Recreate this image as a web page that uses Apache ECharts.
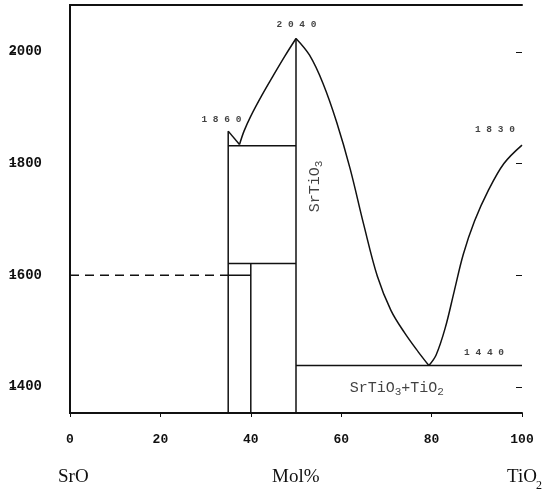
<!DOCTYPE html>
<html>
<head>
<meta charset="utf-8">
<script src="https://cdn.jsdelivr.net/npm/echarts@6/dist/echarts.min.js"></script>
<style>
  html, body { margin: 0; background: #fff; }
  #chart { width: 542px; height: 492px; }
</style>
</head>
<body>
<div id="chart"></div>
<script>
// SrO - TiO2 phase diagram
const xTicks = [0, 20, 40, 60, 80, 100];
const yTicks = [1400, 1600, 1800, 2000];
const yMin = 1353;
const yMax = 2084;

const spike = [[35, 1858], [37.5, 1834]];
const liquidusLeft = [[37.5, 1834], [38.5, 1858], [40, 1885], [42.5, 1923], [45, 1958], [47.5, 1992], [50, 2024]];
const liquidusMid = [[50, 2024], [53, 1994], [56, 1943], [59, 1874], [62, 1790], [65, 1690],
  [68, 1598], [71, 1537], [74, 1497], [77, 1463], [79.4, 1438]];
const liquidusRight = [[79.4, 1438], [81, 1457], [83, 1505], [85, 1571], [87, 1637],
  [89.5, 1697], [92.5, 1751], [96, 1800], [100, 1833]];

const tieLines = [
  [[35, yMin], [35, 1858]],
  [[35, 1832], [50, 1832]],
  [[35, 1621], [50, 1621]],
  [[40, yMin], [40, 1621]],
  [[35, 1600], [40, 1600]],
  [[50, yMin], [50, 2024]],
  [[50, 1438], [100, 1438]],
];
const dashedLine = [[0, 1600], [35, 1600]];

const pointLabels = [[50.1, 2048, '2 0 4 0'], [33.5, 1879, '1 8 6 0'], [94, 1860, '1 8 3 0'], [91.6, 1462, '1 4 4 0']];
const phaseVertical = [[54.3, 1759, '{a|SrTiO}{s|3}']];
const phaseHorizontal = [[72.3, 1397, '{a|SrTiO}{s|3}{a|+TiO}{s|2}']];

const mono = 'Liberation Mono';
const ink = '#111';
const gridBox = { left: 70, right: 20, top: 5, bottom: 79 };

const lineSeries = (data, extra) => Object.assign({
  type: 'line',
  data,
  symbol: 'none',
  silent: true,
  lineStyle: { color: ink, width: 1.5 },
  animation: false,
}, extra || {});

const labelSeries = (data, label) => ({
  type: 'scatter',
  data,
  symbolSize: 0,
  silent: true,
  animation: false,
  label: Object.assign({
    show: true,
    position: 'inside',
    color: ink,
    formatter: (p) => p.data[2],
  }, label),
});

const richText = {
  a: { fontFamily: mono, fontSize: 15, color: ink },
  s: { fontFamily: mono, fontSize: 11, color: ink, padding: [8, 0, 0, 0] },
};

const frameY = (position, extra) => Object.assign({
  type: 'value', min: yMin, max: yMax, position, gridIndex: 0,
  axisLine: { show: true, lineStyle: { color: ink, width: 2 } },
  axisTick: { show: false }, axisLabel: { show: false }, splitLine: { show: false },
}, extra || {});

// tick-only axes live on thin side grids whose outer edge touches the frame,
// so their outward ticks point into the plot
const tickY = (position, gridIndex) => ({
  type: 'value', min: yMin, max: yMax, position, gridIndex,
  axisLine: { show: false },
  axisTick: { show: true, length: 6, lineStyle: { color: ink }, customValues: yTicks },
  axisLabel: { show: false }, splitLine: { show: false },
});

const chart = echarts.init(document.getElementById('chart'), null, { renderer: 'canvas' });
chart.setOption({
  animation: false,
  backgroundColor: '#fff',
  grid: [
    Object.assign({}, gridBox),
    { left: 10, right: 542 - gridBox.left, top: gridBox.top, bottom: gridBox.bottom },
    { left: 542 - gridBox.right, right: 5, top: gridBox.top, bottom: gridBox.bottom },
  ],
  xAxis: [{
    type: 'value', min: 0, max: 100, interval: 20, gridIndex: 0,
    axisLine: { lineStyle: { color: ink, width: 2 } },
    axisTick: { show: true, inside: false, length: 4, lineStyle: { color: ink } },
    axisLabel: { margin: 20, fontFamily: mono, fontSize: 13, fontWeight: 'bold', color: ink,
      customValues: xTicks, formatter: (v) => String(v) },
    splitLine: { show: false },
  }, {
    type: 'value', min: 0, max: 100, position: 'top', gridIndex: 0,
    axisLine: { show: true, lineStyle: { color: ink, width: 2 } },
    axisTick: { show: false }, axisLabel: { show: false }, splitLine: { show: false },
  },
  { type: 'value', min: 0, max: 1, gridIndex: 1, show: false },
  { type: 'value', min: 0, max: 1, gridIndex: 2, show: false }],
  yAxis: [
    frameY('left', {
      axisLabel: { show: true, margin: 28, fontFamily: mono, fontSize: 14, fontWeight: 'bold', color: ink,
        customValues: yTicks, formatter: (v) => String(v) },
    }),
    frameY('right'),
    tickY('right', 1),
    tickY('left', 2),
  ],
  series: [
    lineSeries(spike),
    lineSeries(liquidusLeft, { smooth: 0.35 }),
    lineSeries(liquidusMid, { smooth: 0.35 }),
    lineSeries(liquidusRight, { smooth: 0.35 }),
    ...tieLines.map((seg) => lineSeries(seg)),
    lineSeries(dashedLine, { lineStyle: { color: ink, width: 1.5, type: [9, 6] } }),
    labelSeries(pointLabels, { fontFamily: mono, fontSize: 9.5, fontWeight: 'bold' }),
    labelSeries(phaseVertical, { rotate: 90, rich: richText }),
    labelSeries(phaseHorizontal, { rich: richText }),
  ],
  graphic: [
    { type: 'text', left: 58, top: 468, style: { text: 'SrO', font: '19px "Liberation Serif"', fill: ink } },
    { type: 'text', left: 272, top: 468, style: { text: 'Mol%', font: '19px "Liberation Serif"', fill: ink } },
    { type: 'text', left: 507, top: 468, style: { text: 'TiO', font: '19px "Liberation Serif"', fill: ink } },
    { type: 'text', left: 536, top: 480, style: { text: '2', font: '12px "Liberation Serif"', fill: ink } },
  ],
});
</script>
</body>
</html>
